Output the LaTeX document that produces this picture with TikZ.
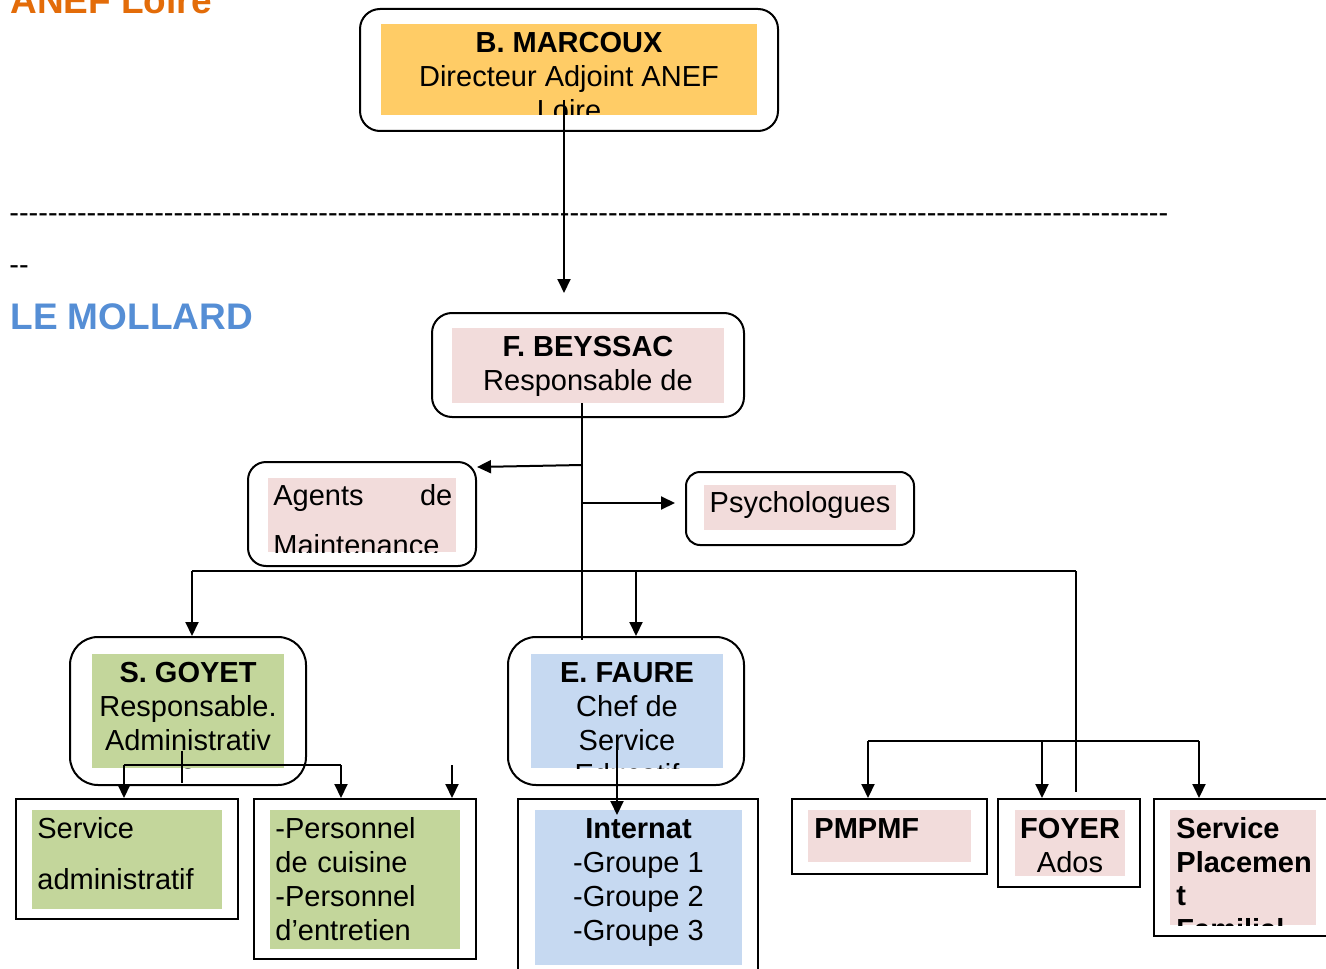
\documentclass[tikz,border=0pt]{standalone}
\usepackage{fontspec}
\setmainfont{Liberation Sans}
\usetikzlibrary{arrows.meta}

\definecolor{dirfill}{HTML}{FFCC66}
\definecolor{pinkfill}{HTML}{F2DCDB}
\definecolor{greenfill}{HTML}{C3D69B}
\definecolor{bluefill}{HTML}{C6D9F1}
\definecolor{anefcol}{HTML}{E36C09}
\definecolor{mollardcol}{HTML}{558ED5}

\begin{document}
\begin{tikzpicture}[x=0.5pt, y=-0.5pt,
  rbox/.style={draw, line width=1pt, rounded corners=#1, inner sep=0pt},
  rbox/.default=10pt,
  sbox/.style={draw, line width=1pt, inner sep=0pt},
  tint/.style={fill=#1, draw=none, inner sep=0pt},
  txt/.style={inner sep=0pt, minimum width=0pt, minimum height=0pt,
              draw=none, fill=none, align=center,
              font=\fontsize{14.5}{17}\selectfont},
  ltxt/.style={txt, align=left},
  title/.style={inner sep=0pt, font=\fontsize{18.5}{22}\selectfont\bfseries},
  ln/.style={line width=1pt},
  arr/.style={ln, -{Triangle[length=7pt,width=6.5pt]}}]
  \useasboundingbox (0,0) rectangle (1326,968);

  % titles and separator
  \node[title, text=anefcol, anchor=base west] (anef) at (10,14) {ANEF Loire};
  \node[txt, anchor=base west] (sep) at (9,222) {\foreach \k in {1,...,120}{\mbox{-}}};
  \node[txt, anchor=base west] (sepend) at (9,274) {\mbox{-}\mbox{-}};
  \node[title, text=mollardcol, anchor=base west] (mollard) at (10,329) {LE MOLLARD};

  % direction
  \node[rbox=10pt, minimum width=209pt, minimum height=61pt] (marcoux) at (569,70) {};
  \node[tint=dirfill, minimum width=188pt, minimum height=45.5pt, path picture={
    \node[txt, anchor=north] at (path picture bounding box.north)
      {\rule{0pt}{14pt}\textbf{B. MARCOUX}\\Directeur Adjoint ANEF\\Loire};}]
    (marcoux-f) at (569,69.5) {};

  \node[rbox=10pt, minimum width=156pt, minimum height=52pt] (beyssac) at (588,365) {};
  \node[tint=pinkfill, minimum width=136pt, minimum height=37.5pt, path picture={
    \node[txt, anchor=north] at (path picture bounding box.north)
      {\rule{0pt}{14pt}\textbf{F. BEYSSAC}\\Responsable de};}]
    (beyssac-f) at (588,365.5) {};

  \node[rbox=9pt, minimum width=114pt, minimum height=52pt] (agents) at (362,514) {};
  \node[tint=pinkfill, minimum width=94pt, minimum height=37pt, path picture={
    \node[ltxt, anchor=north west, text width=89.5pt, font=\fontsize{14.5}{25}\selectfont]
      at ([xshift=2.5pt]path picture bounding box.north west)
      {\rule{0pt}{13.5pt}Agents\hfill de\\Maintenance};}]
    (agents-f) at (362,515) {};

  \node[rbox=7pt, minimum width=114pt, minimum height=36.5pt] (psy) at (800,508.5) {};
  \node[tint=pinkfill, minimum width=96pt, minimum height=22.5pt, path picture={
    \node[txt, anchor=north] at (path picture bounding box.north)
      {\rule{0pt}{13.5pt}Psychologues};}]
    (psy-f) at (800,507.5) {};

  % services
  \node[rbox=14pt, minimum width=118pt, minimum height=74pt] (goyet) at (188,711) {};
  \node[tint=greenfill, minimum width=96pt, minimum height=57pt, path picture={
    \node[txt, anchor=north] at (path picture bounding box.north)
      {\rule{0pt}{14pt}\textbf{S. GOYET}\\Responsable.\\Administrativ\\e};}]
    (goyet-f) at (188,711) {};

  \node[rbox=14pt, minimum width=118pt, minimum height=74pt] (faure) at (626,711) {};
  \node[tint=bluefill, minimum width=96pt, minimum height=57pt, path picture={
    \node[txt, anchor=north] at (path picture bounding box.north)
      {\rule{0pt}{14pt}\textbf{E. FAURE}\\Chef de\\Service\\Educatif};}]
    (faure-f) at (627,711) {};

  % bottom row
  \node[sbox, minimum width=111pt, minimum height=60pt] (admin) at (127,859) {};
  \node[tint=greenfill, minimum width=95pt, minimum height=49.5pt, path picture={
    \node[ltxt, anchor=north west, text width=90pt, font=\fontsize{14.5}{25.5}\selectfont]
      at ([xshift=2.5pt]path picture bounding box.north west)
      {\rule{0pt}{14pt}Service\\administratif};}]
    (admin-f) at (127,859.5) {};

  \node[sbox, minimum width=111pt, minimum height=80pt] (personnel) at (365,879) {};
  \node[tint=greenfill, minimum width=95pt, minimum height=69.5pt, path picture={
    \node[ltxt, anchor=north west, text width=90pt]
      at ([xshift=2.5pt]path picture bounding box.north west)
      {\rule{0pt}{14pt}-Personnel\\de cuisine\\-Personnel\\d’entretien};}]
    (personnel-f) at (365,879.5) {};

  \node[sbox, minimum width=120pt, minimum height=88pt] (internat) at (638,887) {};
  \node[tint=bluefill, minimum width=103.5pt, minimum height=77.5pt, path picture={
    \node[txt, anchor=north] at (path picture bounding box.north)
      {\rule{0pt}{14pt}\textbf{Internat}\\-Groupe 1\\-Groupe 2\\-Groupe 3};}]
    (internat-f) at (638.5,887.5) {};

  \node[sbox, minimum width=97.5pt, minimum height=37.5pt] (pmpmf) at (889.5,836.5) {};
  \node[tint=pinkfill, minimum width=81.5pt, minimum height=26pt, path picture={
    \node[ltxt, anchor=north west]
      at ([xshift=3pt]path picture bounding box.north west)
      {\rule{0pt}{14pt}\textbf{PMPMF}};}]
    (pmpmf-f) at (889.5,836) {};

  \node[sbox, minimum width=71pt, minimum height=44pt] (foyer) at (1069,843) {};
  \node[tint=pinkfill, minimum width=55pt, minimum height=33pt, path picture={
    \node[txt, anchor=north] at (path picture bounding box.north)
      {\rule{0pt}{14pt}\textbf{FOYER}\\Ados};}]
    (foyer-f) at (1070,843) {};

  \node[sbox, minimum width=90pt, minimum height=68.5pt] (placement) at (1244,867.5) {};
  \node[tint=pinkfill, minimum width=73pt, minimum height=57.5pt, path picture={
    \node[ltxt, anchor=north west, font=\fontsize{14.5}{16.8}\selectfont\bfseries]
      at ([xshift=3pt]path picture bounding box.north west)
      {\rule{0pt}{14pt}Service\\Placemen\\t\\Familial};}]
    (placement-f) at (1243,867.5) {};

  % connectors
  \coordinate (m-out) at (564,100);
  \coordinate (b-in) at (564,293);
  \draw[arr] (m-out) -- (b-in);

  \coordinate (b-out) at (582,403);
  \coordinate (b-end) at (582,640);
  \draw[ln] (b-out) -- (b-end);
  \coordinate (ag-from) at (582,465);
  \draw[arr] (ag-from) -- ([yshift=-1pt]ag-from -| agents.east);
  \coordinate (ps-from) at (582,503);
  \coordinate (ps-in) at (675,503);
  \draw[arr] (ps-from) -- (ps-in);

  \coordinate (h-l) at (192,571);
  \coordinate (h-f) at (636,571);
  \coordinate (h-r) at (1076,571);
  \draw[ln] (h-l) -- (h-r);
  \draw[arr] (h-l) -- (h-l |- goyet.north);
  \draw[arr] (h-f) -- (h-f |- faure.north);
  \draw[ln] (h-r) -- ([yshift=3pt]h-r |- foyer.north);

  \coordinate (g-out) at (182,751);
  \coordinate (g-end) at (182,783);
  \draw[ln] (g-out) -- (g-end);
  \coordinate (g-l) at (124,765);
  \coordinate (g-r) at (341,765);
  \coordinate (g-x) at (452,765);
  \draw[ln] (g-l) -- (g-r);
  \draw[arr] (g-l) -- (g-l |- admin.north);
  \draw[arr] (g-r) -- (g-r |- personnel.north);
  \draw[arr] (g-x) -- (g-x |- personnel.north);

  \coordinate (f-out) at (617,735);
  \coordinate (f-in) at (617,815);
  \draw[arr] (f-out) -- (f-in);

  \coordinate (r-l) at (868,741);
  \coordinate (r-m) at (1042,741);
  \coordinate (r-r) at (1199,741);
  \draw[ln] (r-l) -- (r-r);
  \draw[arr] (r-l) -- (r-l |- pmpmf.north);
  \draw[arr] (r-m) -- (r-m |- foyer.north);
  \draw[arr] (r-r) -- (r-r |- placement.north);
\end{tikzpicture}
\end{document}
